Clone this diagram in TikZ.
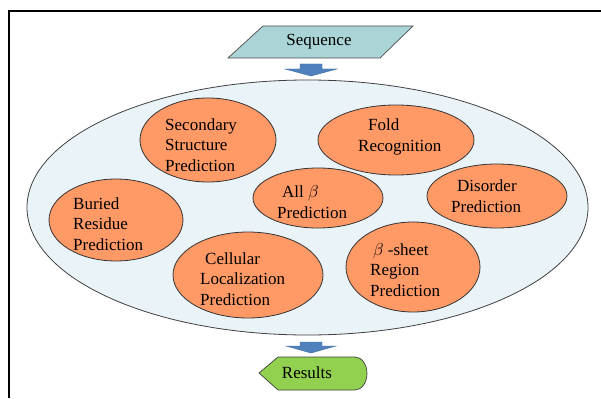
\documentclass[tikz,border=0pt]{standalone}
\usepackage{fontspec}
\setmainfont{Liberation Serif}
\newfontfamily\labelfont{Liberation Serif}
\usetikzlibrary{shapes.geometric}
\definecolor{seqfill}{RGB}{170,212,214}
\definecolor{hubfill}{RGB}{234,244,248}
\definecolor{bubfill}{RGB}{255,153,102}
\definecolor{arrowblue}{RGB}{79,129,189}
\definecolor{resfill}{RGB}{146,208,80}
\begin{document}
\begin{tikzpicture}[x=1pt,y=-1pt,
  hub/.style={ellipse, draw=black!75, line width=0.8pt, fill=hubfill, inner sep=0pt},
  bub/.style={ellipse, draw=black!80, line width=0.8pt, fill=bubfill, inner sep=0pt},
  lbl/.style={font=\labelfont\fontsize{17}{20.5}\selectfont, align=left, inner sep=0pt, anchor=west},
  ctr/.style={font=\labelfont\fontsize{17}{20.5}\selectfont, inner sep=0pt},
  blk/.style={fill=arrowblue, draw=arrowblue!85!black, line width=0.4pt, line join=miter}]
\useasboundingbox (0,0) rectangle (601,398);
\fill[white] (0,0) rectangle (601,398);

% frame edges
\draw[line width=2.5pt, line join=miter] (9,398) -- (9,11) -- (601,11);

% input parallelogram
\filldraw[fill=seqfill, draw=black!70, line width=0.7pt]
  (228,58) -- (263,26) -- (413,26) -- (380,58) -- cycle;
\node[ctr] (seq) at (319,42) {Sequence};

% container of all predictors
\node[hub, minimum width=561pt, minimum height=255pt] (hubE) at (307.5,207.5) {};

% predictor bubbles
\node[bub, minimum width=136pt, minimum height=84pt] (sec)  at (208,140) {};
\node[bub, minimum width=156pt, minimum height=70pt] (fold) at (396,140) {};
\node[bub, minimum width=130pt, minimum height=60pt] (allb) at (318,198) {};
\node[bub, minimum width=140pt, minimum height=64pt] (dis)  at (497,196) {};
\node[bub, minimum width=134pt, minimum height=82pt] (bur)  at (116,220) {};
\node[bub, minimum width=150pt, minimum height=86pt] (cel)  at (248,275) {};
\node[bub, minimum width=134pt, minimum height=90pt] (bsh)  at (413,267) {};

% bubble labels
\node[lbl] (secT)  at (165,145) {Secondary\\Structure\\Prediction};
\node[lbl] (foldT) at (358,137) {\hspace*{10pt}Fold\\Recognition};
\node[lbl] (allbT) at (277,202) {\hspace*{5pt}All $\beta$\\Prediction};
\node[lbl] (disT)  at (451,196) {\hspace*{6pt}Disorder\\Prediction};
\node[lbl] (burT)  at (73,224)  {Buried\\Residue\\Prediction};
\node[lbl] (celT)  at (200,279) {\hspace*{5pt}Cellular\\Localization\\Prediction};
\node[lbl] (bshT)  at (370,270) {\hspace*{3pt}$\beta$ -sheet\\Region\\Prediction};

% block arrows
\coordinate (a1) at (311,64);
\coordinate (a2) at (311,342);
\filldraw[blk, shift={(a1)}]
  (-11,0) -- (11,0) -- (11,5) -- (26,5) -- (0,12) -- (-26,5) -- (-11,5) -- cycle;
\filldraw[blk, shift={(a2)}]
  (-11,0) -- (11,0) -- (11,4) -- (25,4) -- (0,11) -- (-25,4) -- (-11,4) -- cycle;

% output display shape
\filldraw[fill=resfill, draw=black!75, line width=0.7pt]
  (259,373) -- (278,357) -- (355,357)
  arc[start angle=-90, end angle=90, x radius=12, y radius=16.5]
  -- (278,390) -- cycle;
\node[ctr] (res) at (307,373) {Results};
\end{tikzpicture}
\end{document}
